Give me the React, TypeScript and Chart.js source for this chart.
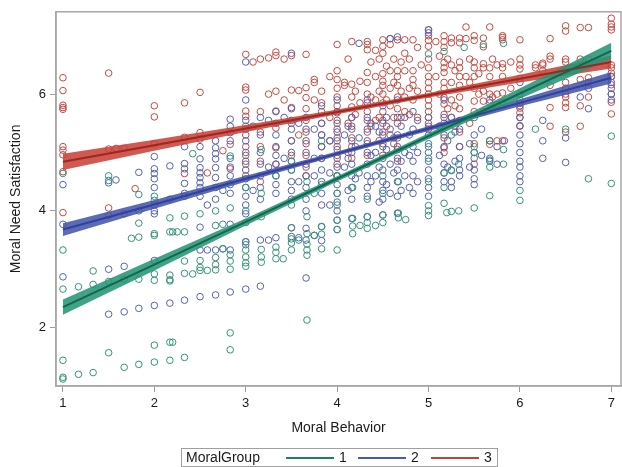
import React, { useEffect, useRef } from "react";
import { Chart, registerables } from "chart.js";

Chart.register(...registerables);

const FONT = "'Liberation Sans', Arial, sans-serif";

// ---- tick labels / categories ----
const xTicks = [1, 2, 3, 4, 5, 6, 7];
const yTicks = [2, 4, 6];
const groupLabels = ["1", "2", "3"];
const xTitle = "Moral Behavior";
const yTitle = "Moral Need Satisfaction";
const legendTitle = "MoralGroup";

// ---- scatter data: [Moral Behavior, list of Moral Need Satisfaction values] ----
const group1Cols: [number, number[]][] = [
  [1, [4.64, 3.33, 2.66, 1.44, 1.15, 1.12]],
  [1.17, [2.7, 1.2]],
  [1.33, [2.97, 2.74, 1.23]],
  [1.5, [4.6, 4.52, 2.79, 1.57]],
  [1.67, [2.83, 1.32]],
  [1.75, [3.53]],
  [1.83, [4.28, 3.79, 3.55, 2.83, 1.37]],
  [2, [4.25, 4.18, 3.61, 3.58, 2.92, 2.81, 1.7, 1.41]],
  [2.17, [3.88, 3.64, 2.9, 2.82, 2.8, 1.75, 1.44]],
  [2.2, [3.64, 1.75]],
  [2.25, [3.64]],
  [2.33, [3.91, 3.64, 3.14, 2.93, 1.49]],
  [2.42, [4.98, 2.92]],
  [2.5, [3.95, 3.15, 3.03, 2.98]],
  [2.58, [2.98]],
  [2.67, [4.0, 3.75, 3.2, 3.08, 2.99]],
  [2.75, [3.77, 3.35]],
  [2.83, [4.94, 4.05, 3.25, 3.14, 3.0, 1.91, 1.62]],
  [3, [4.4, 4.0, 3.8, 3.47, 3.33, 3.21, 3.11, 3.05]],
  [3.17, [5.05, 4.3, 3.9, 3.34, 3.21, 3.12]],
  [3.33, [4.6, 3.38, 3.29, 3.18]],
  [3.41, [3.18]],
  [3.5, [4.85, 4.7, 4.1, 3.71, 3.52, 3.45, 3.33]],
  [3.58, [3.5]],
  [3.67, [4.5, 3.9, 3.61, 3.43, 3.33, 3.24, 2.13]],
  [3.75, [4.3, 3.58]],
  [3.83, [5.2, 4.45, 3.73, 3.6, 3.35]],
  [4, [4.6, 4.3, 4.1, 3.84, 3.68, 3.33]],
  [4.17, [4.4, 3.87, 3.74, 3.61]],
  [4.25, [3.75]],
  [4.33, [4.2, 3.9, 3.8, 3.7]],
  [4.42, [3.75]],
  [4.5, [4.6, 4.3, 3.93, 3.8]],
  [4.67, [4.5, 3.96, 3.88]],
  [4.75, [3.85]],
  [5, [6.69, 5.1, 4.9, 4.5, 4.09, 4.0, 3.92]],
  [5.17, [6.73, 4.65, 4.4, 4.13]],
  [5.2, [3.97]],
  [5.25, [5.3, 4.69, 3.99]],
  [5.33, [4.8, 4.0]],
  [5.39, [6.8]],
  [5.5, [5.1, 5.0, 4.05]],
  [5.6, [6.85]],
  [5.67, [5.2, 4.87, 4.75, 4.26]],
  [5.82, [6.87, 5.05, 4.8]],
  [6, [4.35, 4.18]],
  [6.17, [5.4]],
  [6.5, [5.4]],
  [6.75, [4.55]],
  [7, [5.28, 4.47]],
];

const group2Cols: [number, number[]][] = [
  [1, [4.45, 3.77, 2.87]],
  [1.5, [4.48, 3.92, 3.0, 2.23]],
  [1.58, [4.53]],
  [1.67, [3.95, 3.05, 2.27]],
  [1.83, [4.66, 4.0, 2.33]],
  [2, [4.93, 4.72, 4.64, 4.55, 4.4, 4.1, 4.0, 3.95, 3.15, 2.38]],
  [2.17, [4.77, 4.2, 2.42]],
  [2.33, [5.1, 4.81, 4.72, 4.47, 4.3, 4.25, 2.47]],
  [2.5, [5.1, 4.89, 4.74, 4.65, 4.57, 4.48, 4.4, 4.25, 3.72, 3.33, 2.53]],
  [2.58, [4.1, 3.33]],
  [2.67, [5.2, 5.08, 4.98, 4.89, 4.74, 4.57, 4.4, 4.2, 3.33, 2.56]],
  [2.75, [4.35, 3.35]],
  [2.83, [5.57, 5.45, 5.34, 5.2, 4.9, 4.75, 4.6, 4.45, 4.3, 3.77, 3.33, 2.61]],
  [3, [6.55, 5.9, 5.55, 5.4, 5.2, 5.0, 4.85, 4.7, 4.55, 4.4, 4.25, 4.1, 3.95, 3.47, 3.42, 2.66]],
  [3.08, [5.45, 4.35]],
  [3.16, [5.6, 5.3, 5.0, 4.8, 4.6, 4.4, 4.2, 3.5, 2.71]],
  [3.25, [5.55, 4.75, 3.5]],
  [3.33, [5.7, 5.5, 5.3, 5.1, 4.95, 4.8, 4.6, 4.45, 4.3, 3.54]],
  [3.42, [5.6, 4.9]],
  [3.5, [6.7, 5.75, 5.55, 5.4, 5.2, 5.0, 4.85, 4.7, 4.5, 4.35, 4.2, 3.71, 3.56]],
  [3.58, [5.5, 4.5, 3.54]],
  [3.66, [5.6, 5.4, 5.2, 5.0, 4.8, 4.6, 4.4, 4.2, 4.0, 3.7, 3.5, 2.85]],
  [3.75, [5.4, 4.9, 4.6, 3.58]],
  [3.83, [5.8, 5.5, 5.3, 5.1, 4.9, 4.7, 4.5, 4.3, 4.1, 3.73, 3.49]],
  [3.92, [5.2, 4.65, 4.1]],
  [4, [5.9, 5.7, 5.5, 5.35, 5.2, 5.05, 4.9, 4.75, 4.6, 4.45, 4.3, 4.15, 4.0, 3.84, 3.68]],
  [4.08, [5.3, 4.75]],
  [4.12, [5.45, 4.9, 4.35]],
  [4.16, [5.6, 5.4, 5.2, 5.0, 4.8, 4.6, 4.4, 4.2, 3.87]],
  [4.2, [5.1, 4.55]],
  [4.24, [6.87, 5.25, 4.65]],
  [4.33, [5.9, 5.6, 5.4, 5.2, 5.0, 4.8, 4.6, 4.4, 4.25, 3.9]],
  [4.37, [5.5, 4.95, 4.5]],
  [4.42, [5.45, 5.0, 4.6]],
  [4.46, [5.35, 4.75, 4.15]],
  [4.5, [5.8, 5.5, 5.3, 5.1, 4.9, 4.7, 4.5, 4.35, 4.2, 3.93]],
  [4.54, [5.6, 5.05, 4.45]],
  [4.58, [6.95, 5.4, 4.8, 4.3]],
  [4.62, [5.25, 4.65]],
  [4.66, [6.98, 5.9, 5.6, 5.3, 5.1, 4.9, 4.7, 4.5, 4.25, 3.96]],
  [4.7, [5.45, 4.85, 4.35]],
  [4.74, [5.6, 5.0, 4.6]],
  [4.79, [5.3, 4.95, 4.4]],
  [4.83, [5.7, 5.4, 5.1, 4.85, 4.6, 4.3]],
  [4.88, [5.55, 5.0, 4.5]],
  [5, [7.1, 7.05, 5.6, 5.45, 5.3, 5.15, 5.0, 4.85, 4.7, 4.55, 4.4, 4.25]],
  [5.12, [5.45, 4.95]],
  [5.17, [5.9, 5.6, 5.3, 5.1, 4.8, 4.65, 4.5]],
  [5.21, [5.2, 4.75]],
  [5.25, [5.6, 4.7, 4.5, 4.4]],
  [5.29, [5.35, 4.85]],
  [5.34, [5.4, 5.1, 4.9, 4.7, 4.6]],
  [5.45, [5.15, 4.75]],
  [5.5, [5.6, 5.3, 5.0, 4.9, 4.7, 4.55, 4.45]],
  [5.58, [5.4, 4.95]],
  [5.67, [5.9, 5.2, 4.9, 4.85]],
  [5.75, [5.1, 4.8]],
  [5.83, [5.2]],
  [6, [6.2, 6.0, 5.8, 5.6, 5.45, 5.3, 5.15, 5.0, 4.85, 4.75, 4.6, 4.5]],
  [6.25, [5.55, 5.2, 4.9]],
  [6.5, [5.25, 4.83]],
  [6.66, [5.95]],
  [6.75, [6.1, 5.75]],
  [7, [6.3, 6.2, 6.1, 6.0, 5.9]],
];

const group3Cols: [number, number[]][] = [
  [1, [6.28, 6.06, 5.81, 5.77, 5.74, 5.1, 5.04, 4.96, 4.67, 3.97]],
  [1.5, [6.36, 5.06, 4.05]],
  [1.58, [5.07]],
  [1.67, [5.07]],
  [1.79, [4.38]],
  [2, [5.8, 5.61, 5.15]],
  [2.33, [5.85, 5.26, 4.64]],
  [2.5, [6.03, 5.34, 5.23]],
  [2.58, [4.65]],
  [2.75, [5.03]],
  [2.83, [5.14, 4.72]],
  [3, [6.68, 6.12, 6.07, 5.71, 5.62, 5.45, 5.3, 5.1, 4.95, 4.8, 4.6]],
  [3.08, [6.55]],
  [3.16, [6.6, 5.7, 5.35, 5.1, 4.85, 4.5]],
  [3.25, [6.62, 6.0]],
  [3.33, [6.72, 6.66, 6.05, 5.71, 5.42, 5.08, 4.8]],
  [3.42, [6.6, 5.9]],
  [3.5, [6.66, 6.07, 5.77, 5.5, 5.2, 4.95]],
  [3.58, [6.06, 5.3]],
  [3.66, [6.68, 6.11, 5.94, 5.75, 5.55, 5.35, 5.15, 4.95, 4.75, 4.6]],
  [3.75, [6.25, 6.2, 5.9]],
  [3.83, [6.05, 5.85, 5.7, 5.5, 5.3, 5.1, 4.9]],
  [3.92, [6.3, 5.6, 5.2]],
  [4, [6.85, 6.4, 6.25, 6.1, 5.95, 5.8, 5.68, 5.55, 5.4, 5.25, 5.1, 4.95, 4.8, 4.6]],
  [4.08, [6.2, 6.15]],
  [4.12, [6.6, 5.5, 5.0]],
  [4.16, [6.9, 6.17, 5.95, 5.78, 5.6, 5.45, 5.25, 5.1, 4.9]],
  [4.2, [6.05, 5.65]],
  [4.25, [6.22, 5.85]],
  [4.33, [6.9, 6.85, 6.76, 6.37, 6.2, 6.0, 5.85, 5.7, 5.55, 5.35, 5.15, 4.95]],
  [4.37, [6.55, 5.95, 5.45]],
  [4.42, [6.75, 6.3, 5.9, 5.55]],
  [4.46, [6.6, 6.05, 5.6, 5.2]],
  [4.5, [6.93, 6.82, 6.7, 6.35, 6.22, 6.15, 6.0, 5.85, 5.7, 5.55, 5.35, 5.15, 4.95]],
  [4.54, [6.48, 5.9, 5.45]],
  [4.58, [6.95, 6.85, 6.4, 6.1, 5.8, 5.3]],
  [4.62, [6.6, 6.2, 5.6, 5.15]],
  [4.66, [6.93, 6.4, 6.3, 6.15, 5.95, 5.75, 5.5, 5.25, 5.05, 4.85]],
  [4.7, [6.55, 6.05, 5.6]],
  [4.74, [6.93, 6.7, 6.4, 5.95, 5.7]],
  [4.79, [6.6, 6.1, 5.65]],
  [4.83, [6.93, 6.4, 6.25, 6.15, 5.9]],
  [4.88, [6.8, 6.05, 5.6]],
  [4.92, [6.5]],
  [5, [7.1, 7.0, 6.92, 6.82, 6.6, 6.45, 6.3, 6.2, 6.1, 6.0, 5.9, 5.8, 5.7, 5.6, 5.5, 5.4]],
  [5.08, [6.9, 6.3]],
  [5.12, [6.65, 6.0, 5.45]],
  [5.17, [7.0, 6.9, 6.8, 6.54, 6.45, 6.37, 6.2, 6.1, 5.94, 5.83, 5.65, 5.5, 5.25, 5.08, 5.0]],
  [5.21, [6.6, 5.75]],
  [5.25, [6.96, 6.88, 6.5, 6.2, 5.9, 5.6]],
  [5.29, [6.4, 5.8, 5.45]],
  [5.34, [6.96, 6.88, 6.55, 6.45, 6.3, 6.15, 5.95, 5.75, 5.55, 5.35, 5.1]],
  [5.41, [7.15, 6.95, 6.3]],
  [5.45, [6.6, 6.2, 5.5]],
  [5.5, [7.0, 6.92, 6.55, 6.45, 6.3, 6.1, 5.88, 5.7, 5.15, 4.8]],
  [5.55, [6.35, 6.0]],
  [5.6, [6.96, 6.81, 6.52, 6.45, 6.05, 5.88, 5.7]],
  [5.67, [7.15, 6.45, 6.3, 6.0, 5.85, 5.14]],
  [5.7, [6.6, 5.95]],
  [5.75, [6.5, 6.0, 5.82, 5.2]],
  [5.81, [7.0, 6.97, 6.93, 6.52, 6.45, 6.3, 6.02, 5.86, 5.2]],
  [5.9, [6.55, 6.1]],
  [6, [6.93, 6.6, 6.5, 6.43, 6.27, 5.9, 5.84, 5.76, 5.68, 5.6, 5.46]],
  [6.17, [6.5, 6.45]],
  [6.25, [6.53, 6.5, 6.4]],
  [6.33, [6.95, 6.65, 6.6, 6.15, 5.77, 5.45]],
  [6.5, [7.17, 7.08, 6.6, 6.55, 6.4, 6.2, 6.1, 6.0, 5.95, 5.85, 5.77, 5.35]],
  [6.66, [7.14, 6.6, 6.25, 5.8, 5.45]],
  [6.75, [7.14, 6.6, 6.28, 6.2, 5.95]],
  [7, [7.3, 7.2, 7.15, 7.1, 6.5, 6.45, 6.36, 6.3, 6.16, 6.0, 5.86, 5.66]],
];

// ---- fitted regression lines and confidence limits (read at x = 1..7) ----
const fitX = [1, 2, 3, 4, 5, 6, 7];
const fit1 = [2.35, 3.08, 3.81, 4.55, 5.28, 6.01, 6.74];
const lower1 = [2.22, 2.98, 3.75, 4.505, 5.23, 5.92, 6.6];
const upper1 = [2.48, 3.18, 3.87, 4.595, 5.33, 6.1, 6.88];
const fit2 = [3.68, 4.11, 4.55, 4.98, 5.41, 5.85, 6.28];
const lower2 = [3.57, 4.035, 4.5, 4.945, 5.37, 5.79, 6.18];
const upper2 = [3.79, 4.185, 4.6, 5.015, 5.45, 5.91, 6.38];
const fit3 = [4.84, 5.125, 5.41, 5.695, 5.98, 6.265, 6.55];
const lower3 = [4.7, 5.03, 5.35, 5.655, 5.94, 6.2, 6.44];
const upper3 = [4.98, 5.22, 5.47, 5.735, 6.02, 6.33, 6.66];

const pointColors = ["#35917a", "#5262b0", "#c24b42"];
const bandColors = ["rgba(38,150,118,0.88)", "rgba(70,86,172,0.88)", "rgba(202,66,58,0.88)"];
const lineColors = ["#14664f", "#32419a", "#9c2820"];
const legendColors = ["#1f7e66", "#4a5aaa", "#c0443a"];

function toPoints(cols: [number, number[]][]) {
  const out: { x: number; y: number }[] = [];
  cols.forEach(([x, ys]) => ys.forEach((y) => out.push({ x, y })));
  return out;
}
function toXY(xs: number[], ys: number[]) {
  return xs.map((x, i) => ({ x, y: ys[i] }));
}

const framePlugin = {
  id: "frame",
  afterDraw(chart: any) {
    const { ctx, chartArea } = chart;
    ctx.save();
    ctx.strokeStyle = "#a8a8a8";
    ctx.lineWidth = 1.5;
    ctx.strokeRect(chartArea.left, chartArea.top, chartArea.right - chartArea.left, chartArea.bottom - chartArea.top);
    ctx.restore();
  },
};

export default function App() {
  const ref = useRef<HTMLCanvasElement | null>(null);

  useEffect(() => {
    if (!ref.current) return;
    const groups = [group1Cols, group2Cols, group3Cols];
    const fits = [fit1, fit2, fit3];
    const lowers = [lower1, lower2, lower3];
    const uppers = [upper1, upper2, upper3];

    const datasets: any[] = [];
    groups.forEach((cols, i) => {
      datasets.push({
        type: "scatter",
        label: "pts" + groupLabels[i],
        data: toPoints(cols),
        pointStyle: "circle",
        pointRadius: 3.3,
        pointBorderWidth: 1,
        borderColor: pointColors[i],
        backgroundColor: "rgba(0,0,0,0)",
        pointBackgroundColor: "rgba(0,0,0,0)",
        order: 10,
      });
    });
    groups.forEach((_c, i) => {
      datasets.push({
        type: "line",
        label: "lo" + groupLabels[i],
        data: toXY(fitX, lowers[i]),
        borderWidth: 0,
        borderColor: "rgba(0,0,0,0)",
        pointRadius: 0,
        fill: false,
        order: 5,
      });
      datasets.push({
        type: "line",
        label: "hi" + groupLabels[i],
        data: toXY(fitX, uppers[i]),
        borderWidth: 0,
        borderColor: "rgba(0,0,0,0)",
        backgroundColor: bandColors[i],
        pointRadius: 0,
        fill: "-1",
        order: 5,
      });
    });
    groups.forEach((_c, i) => {
      datasets.push({
        type: "line",
        label: groupLabels[i],
        data: toXY(fitX, fits[i]),
        borderWidth: 2,
        borderColor: lineColors[i],
        pointRadius: 0,
        fill: false,
        order: 1,
      });
    });

    const chart = new Chart(ref.current, {
      type: "scatter",
      data: { datasets },
      plugins: [framePlugin],
      options: {
        animation: false,
        responsive: false,
        events: [],
        layout: { padding: { left: 0, top: 10, right: 0, bottom: 27 } },
        plugins: { legend: { display: false }, tooltip: { enabled: false } },
        scales: {
          x: {
            type: "linear",
            min: 0.924,
            max: 7.106,
            grid: { display: true, drawOnChartArea: false, drawTicks: true, tickLength: 6, color: "#9a9a9a", lineWidth: 1 },
            border: { display: true, color: "#a8a8a8", width: 1.5 },
            ticks: { font: { family: FONT, size: 13 }, color: "#1a1a1a", padding: 4, autoSkip: false, maxRotation: 0 },
            title: { display: true, text: xTitle, font: { family: FONT, size: 14 }, color: "#1a1a1a", padding: { top: 0, bottom: 3.6 } },
            afterBuildTicks: (s: any) => { s.ticks = xTicks.map((v) => ({ value: v })); },
            afterFit: (s: any) => { s.height = 54; },
          },
          y: {
            type: "linear",
            min: 1.0,
            max: 7.41,
            grid: { display: true, drawOnChartArea: false, drawTicks: true, tickLength: 6, color: "#9a9a9a", lineWidth: 1 },
            border: { display: true, color: "#a8a8a8", width: 1.5 },
            ticks: { font: { family: FONT, size: 13 }, color: "#1a1a1a", padding: 4 },
            title: { display: true, text: yTitle, font: { family: FONT, size: 14 }, color: "#1a1a1a", padding: { top: 7.6, bottom: 0 } },
            afterBuildTicks: (s: any) => { s.ticks = yTicks.map((v) => ({ value: v })); },
            afterFit: (s: any) => { s.width = 56; },
          },
        },
      } as any,
    });
    return () => chart.destroy();
  }, []);

  const textStyle: React.CSSProperties = {
    position: "absolute",
    top: 449,
    height: 17,
    lineHeight: "17px",
    fontFamily: FONT,
    fontSize: 14,
    color: "#1a1a1a",
    whiteSpace: "nowrap",
  };
  const swatchX = [286, 358, 431];
  const labelX = [339, 411, 484];

  return (
    <div style={{ position: "fixed", left: 0, top: 0, width: 622, height: 467, overflow: "hidden", background: "#fff" }}>
      <canvas ref={ref} width={626} height={467} style={{ position: "absolute", left: 0, top: 0, width: 626, height: 467 }} />
      <div
        style={{
          position: "absolute",
          left: 181,
          top: 448,
          width: 317,
          height: 19,
          border: "1px solid #a0a0a0",
          boxSizing: "border-box",
        }}
      />
      <span style={{ ...textStyle, left: 186 }}>{legendTitle}</span>
      {groupLabels.map((g, i) => (
        <React.Fragment key={g}>
          <div style={{ position: "absolute", left: swatchX[i], top: 457, width: 48, height: 2, background: legendColors[i] }} />
          <span style={{ ...textStyle, left: labelX[i] }}>{g}</span>
        </React.Fragment>
      ))}
    </div>
  );
}
